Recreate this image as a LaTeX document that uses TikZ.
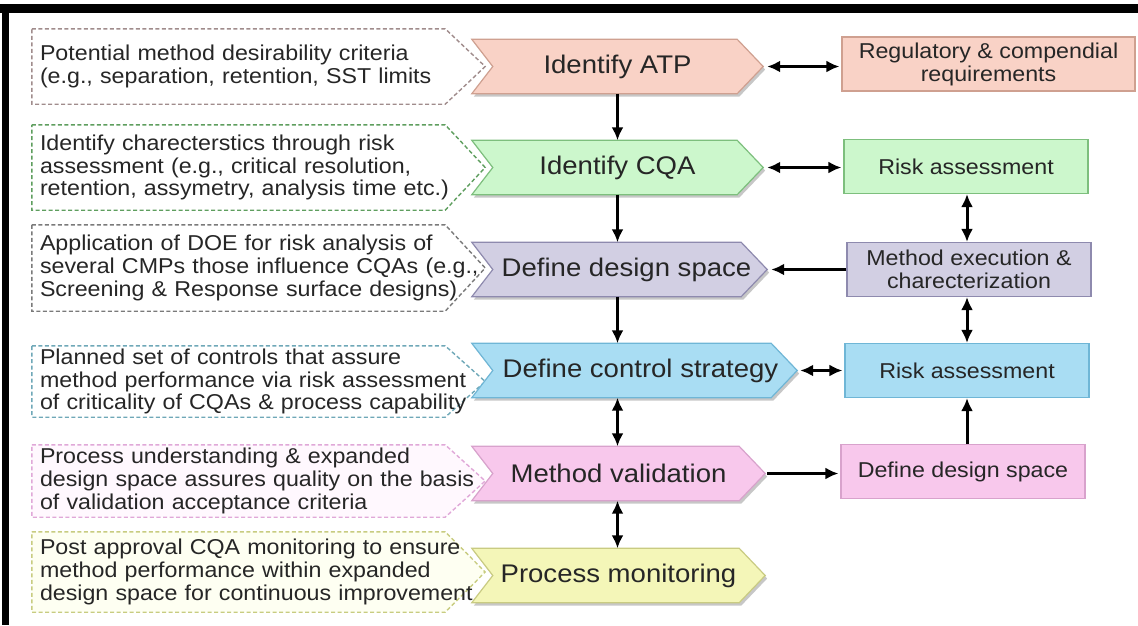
\documentclass[tikz,border=0pt]{standalone}
\usepackage{fontspec}
\setmainfont{Liberation Sans}[FakeStretch=1.08]
\usetikzlibrary{arrows.meta,calc,backgrounds}
\definecolor{txt}{HTML}{262626}
\definecolor{pkF}{HTML}{F9D2C6}\definecolor{pkD}{HTML}{CFA090}
\definecolor{grF}{HTML}{CCF7CC}\definecolor{grD}{HTML}{7DBF7D}
\definecolor{lvF}{HTML}{D2CFE3}\definecolor{lvD}{HTML}{8E8AAE}
\definecolor{blF}{HTML}{A9DDF3}\definecolor{blD}{HTML}{6FB6D6}
\definecolor{mgF}{HTML}{F8C8EC}\definecolor{mgD}{HTML}{D8A2CC}
\definecolor{yeF}{HTML}{F4F6B8}\definecolor{yeD}{HTML}{C9CB82}
\definecolor{c1D}{HTML}{A08C8C}\definecolor{c2D}{HTML}{5E9E5E}
\definecolor{c3D}{HTML}{7A7A7A}\definecolor{c4D}{HTML}{6FA8B8}
\definecolor{c5D}{HTML}{E0A8D8}\definecolor{c6D}{HTML}{C8CC80}
\definecolor{c5F}{HTML}{FFF8FE}\definecolor{c6F}{HTML}{FEFFF2}
\newcommand\drawchev[3]{%
\begin{pgfonlayer}{background}
\fill[black,opacity=.22] ([shift={(2pt,-3pt)}]#1.north west) -- ([shift={(-24pt,-3pt)}]#1.north east) -- ([shift={(2pt,-3pt)}]#1.east) -- ([shift={(-24pt,-3pt)}]#1.south east) -- ([shift={(2pt,-3pt)}]#1.south west) -- ([shift={(23pt,-3pt)}]#1.west) -- cycle;
\filldraw[fill=#2,draw=#3,line width=1.2pt,line join=miter] (#1.north west) -- ([xshift=-26pt]#1.north east) -- (#1.east) -- ([xshift=-26pt]#1.south east) -- (#1.south west) -- ([xshift=21pt]#1.west) -- cycle;
\end{pgfonlayer}}
\newcommand\drawcall[3]{%
\begin{pgfonlayer}{background}
\filldraw[fill=#2,draw=#3,line width=1.4pt,dash pattern=on 4pt off 2.5pt] (#1.north west) -- ([xshift=-63pt]#1.north east) -- ([xshift=-23pt]#1.east) -- ([xshift=-63pt]#1.south east) -- (#1.south west) -- cycle;
\end{pgfonlayer}}
\begin{document}
\begin{tikzpicture}[x=1pt,y=-1pt,
  chevnode/.style={minimum width=#1, minimum height=54pt, inner sep=0pt, text=txt,
     font=\fontsize{25.5}{27}\selectfont},
  call/.style={minimum height=#1, text width=460pt, inner xsep=8pt, inner ysep=0pt,
     align=left, text=txt, font=\fontsize{21.5}{22.6}\selectfont},
  rbox/.style={draw=#1, line width=1.2pt, minimum width=244pt, minimum height=54pt,
     inner sep=0pt, align=center, text=txt, font=\fontsize{21.5}{23}\selectfont},
  arr/.style={line width=3pt, -{Latex[length=13pt,width=12pt]}},
  darr/.style={line width=3pt, {Latex[length=13pt,width=12pt]}-{Latex[length=13pt,width=12pt]}}]
\begin{pgfonlayer}{background}
\fill[white] (0,0) rectangle (1138,625);
\end{pgfonlayer}
\useasboundingbox (0,0) rectangle (1138,625);
% frame bars
\fill[black] (0,4) rectangle (1138,13);
\fill[black] (2,13) rectangle (9,625);
% callouts
\node[call=75pt] (c1) at (270,66.5) {Potential method desirability criteria\\(e.g., separation, retention, SST limits};
\node[call=85pt] (c2) at (270,167.5) {Identify charecterstics through risk\\assessment (e.g., critical resolution,\\retention, assymetry, analysis time etc.)};
\node[call=86pt] (c3) at (270,268) {Application of DOE for risk analysis of\\several CMPs those influence CQAs (e.g.,\\Screening \& Response surface designs)};
\node[call=71pt] (c4) at (270,381.5) {Planned set of controls that assure\\method performance via risk assessment\\of criticality of CQAs \& process capability};
\node[call=72pt] (c5) at (270,481) {Process understanding \& expanded\\design space assures quality on the basis\\of validation acceptance criteria};
\node[call=80pt] (c6) at (270,572) {Post approval CQA monitoring to ensure\\method performance within expanded\\design space for continuous improvement};
\drawcall{c1}{white}{c1D}
\drawcall{c2}{white}{c2D}
\drawcall{c3}{white}{c3D}
\drawcall{c4}{white}{c4D}
\drawcall{c5}{c5F}{c5D}
\drawcall{c6}{c6F}{c6D}
% chevrons
\node[chevnode=291pt] (atp) at (617.5,66.5) {Identify ATP};
\node[chevnode=291pt] (cqa) at (617.5,167.5) {Identify CQA};
\node[chevnode=295pt] (dds) at (619.5,269.5) {\hspace*{14pt}Define design space};
\node[chevnode=325pt] (dcs) at (634.5,370.5) {\hspace*{12pt}Define control strategy};
\node[chevnode=293pt] (mv) at (618.5,473.5) {Method validation};
\node[chevnode=293pt] (pm) at (618.5,575.5) {Process monitoring};
\drawchev{atp}{pkF}{pkD}
\drawchev{cqa}{grF}{grD}
\drawchev{dds}{lvF}{lvD}
\drawchev{dcs}{blF}{blD}
\drawchev{mv}{mgF}{mgD}
\drawchev{pm}{yeF}{yeD}
% right boxes
\node[rbox=pkD, fill=pkF, minimum width=293pt] (reg) at (988.5,64) {Regulatory \& compendial\\requirements};
\node[rbox=grD, fill=grF] (rg) at (966,166.5) {Risk assessment};
\node[rbox=lvD, fill=lvF] (me) at (969,269.5) {Method execution \&\\charecterization};
\node[rbox=blD, fill=blF] (rb) at (967,370.5) {Risk assessment};
\node[rbox=mgD, fill=mgF] (dd) at (963,471.5) {Define design space};
% middle column connectors
\draw[arr] (atp.south) -- (cqa.north);
\draw[arr] (cqa.south) -- (cqa.south |- dds.north);
\draw[arr] (dds.south -| cqa.south) -- (cqa.south |- dcs.north);
\draw[darr] (dcs.south -| cqa.south) -- (cqa.south |- mv.north);
\draw[darr] (mv.south -| cqa.south) -- (cqa.south |- pm.north);
% horizontal connectors
\draw[darr, shorten <=4pt, shorten >=2pt] (atp.east) -- (atp.east -| reg.west);
\draw[darr, shorten <=4pt, shorten >=2pt] (cqa.east) -- (cqa.east -| rg.west);
\draw[arr, shorten >=4pt] (me.west) -- (me.west -| dds.east);
\draw[darr, shorten <=3pt, shorten >=2pt] (dcs.east) -- (dcs.east -| rb.west);
\draw[arr, shorten <=2pt, shorten >=2pt] (mv.east) -- (mv.east -| dd.west);
% right column connectors
\draw[darr] (rb.north |- rg.south) -- (rb.north |- me.north);
\draw[darr] (rb.north |- me.south) -- (rb.north);
\draw[arr] (rb.south |- dd.north) -- (rb.south);
\end{tikzpicture}
\end{document}
